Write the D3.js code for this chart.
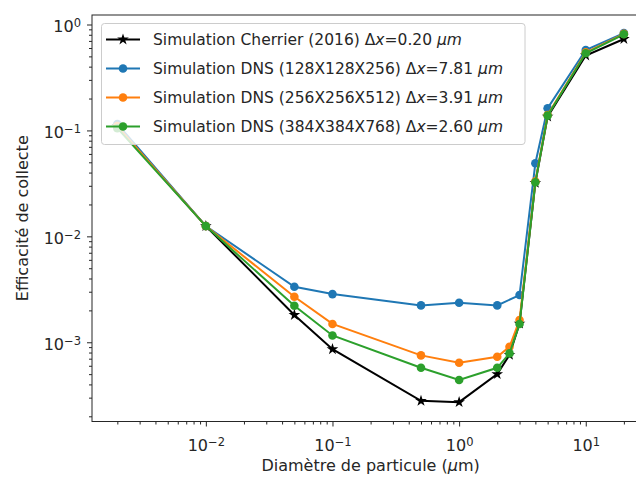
<!DOCTYPE html>
<html>
<head>
<meta charset="utf-8">
<script src="https://cdn.jsdelivr.net/npm/d3@7"></script>
<style>
  body { margin: 0; background: #fff; }
  .chart { width: 636px; height: 477px; }
  text { font-family: "DejaVu Sans", sans-serif; fill: #262626; }
  .axis path, .axis line { stroke: #262626; }
</style>
</head>
<body>
<div class="chart"></div>
<script>
// diameters (um) and collection efficiency for each run
var cherrierX = [0.002, 0.01, 0.05, 0.1, 0.5, 1, 2, 2.5, 3, 4, 5, 10, 20];
var cherrierY = [0.11, 0.0125, 0.00181, 0.00086, 0.00028, 0.000272, 0.0005, 0.00076, 0.0015, 0.032, 0.135, 0.51, 0.73];

var dns128X = [0.002, 0.01, 0.05, 0.1, 0.5, 1, 2, 3, 4, 5, 10, 20];
var dns128Y = [0.115, 0.0125, 0.00334, 0.00285, 0.00223, 0.00236, 0.00223, 0.00279, 0.049, 0.162, 0.574, 0.83];

var dns256X = [0.002, 0.01, 0.05, 0.1, 0.5, 1, 2, 2.5, 3, 4, 5, 10, 20];
var dns256Y = [0.11, 0.0125, 0.00269, 0.00149, 0.000752, 0.00064, 0.00073, 0.000906, 0.00162, 0.033, 0.14, 0.545, 0.815];

var dns384X = [0.002, 0.01, 0.05, 0.1, 0.5, 1, 2, 2.5, 3, 4, 5, 10, 20];
var dns384Y = [0.105, 0.0125, 0.00221, 0.00116, 0.000574, 0.00044, 0.000574, 0.000785, 0.00149, 0.0324, 0.138, 0.535, 0.808];

var seriesNames = ["Simulation Cherrier (2016) \u0394", "Simulation DNS (128X128X256) \u0394", "Simulation DNS (256X256X512) \u0394", "Simulation DNS (384X384X768) \u0394"];
var seriesDx = ["0.20", "7.81", "3.91", "2.60"];

var xMajor = [1e-2, 1e-1, 1, 10];
var yMajor = [1e-3, 1e-2, 1e-1, 1];
var xLabelText = "Diam\u00e8tre de particule (";
var yLabelText = "Efficacit\u00e9 de collecte";

function zip(xs, ys) {
  return xs.map(function(d, i) { return {x: d, y: ys[i]}; });
}

var series = [
  {name: seriesNames[0], dx: seriesDx[0], data: zip(cherrierX, cherrierY), color: "#000000", marker: "star"},
  {name: seriesNames[1], dx: seriesDx[1], data: zip(dns128X, dns128Y), color: "#1f77b4", marker: "circle"},
  {name: seriesNames[2], dx: seriesDx[2], data: zip(dns256X, dns256Y), color: "#ff7f0e", marker: "circle"},
  {name: seriesNames[3], dx: seriesDx[3], data: zip(dns384X, dns384Y), color: "#2ca02c", marker: "circle"}
];

function minorTicks(lo, hi) {
  var out = [];
  for (var e = Math.floor(Math.log10(lo)); e <= Math.ceil(Math.log10(hi)); e++) {
    for (var k = 2; k <= 9; k++) {
      var v = k * Math.pow(10, e);
      if (v >= lo && v <= hi) out.push(v);
    }
  }
  return out;
}

function supLabel(sel, v) {
  var e = Math.round(Math.log10(v));
  sel.text("");
  sel.append("tspan").text("10");
  sel.append("tspan").attr("dy", "-0.45em").style("font-size", "11.5px").text(e < 0 ? "\u2212" + (-e) : e);
}

function drawEfficiency() {
  var eleChart = d3.select(".chart").html(""),
      W = 636, H = 477,
      left = 92, right = 649.2, top = 15, bottom = 421.5;

  var svg = eleChart.append("svg").attr("width", W).attr("height", H);

  var x = d3.scaleLog().domain([Math.pow(10, -2.899), Math.pow(10, 1.501)]).range([left, right]),
      y = d3.scaleLog().domain([Math.pow(10, -3.748), Math.pow(10, 0.0897)]).range([bottom, top]);

  // frame (right side runs past the picture edge, like the reference crop)
  svg.append("rect")
    .attr("x", left).attr("y", top)
    .attr("width", right - left).attr("height", bottom - top)
    .attr("fill", "none").attr("stroke", "#262626").attr("stroke-width", 1);

  // x axis
  var gx = svg.append("g").attr("class", "axis axis-x")
    .attr("transform", "translate(0," + bottom + ")");
  gx.append("g")
    .call(d3.axisBottom(x).tickValues(minorTicks(x.domain()[0], x.domain()[1])).tickSize(3).tickFormat(""))
    .call(function(g) { g.select(".domain").remove(); });
  gx.append("g")
    .call(d3.axisBottom(x).tickValues(xMajor).tickSize(5).tickPadding(7))
    .call(function(g) { g.select(".domain").remove(); })
    .selectAll("text")
      .style("font-size", "16px").attr("dy", "1.1em")
      .each(function(d) { supLabel(d3.select(this), d); });

  // y axis
  var gy = svg.append("g").attr("class", "axis axis-y")
    .attr("transform", "translate(" + left + ",0)");
  gy.append("g")
    .call(d3.axisLeft(y).tickValues(minorTicks(y.domain()[0], y.domain()[1])).tickSize(3).tickFormat(""))
    .call(function(g) { g.select(".domain").remove(); });
  gy.append("g")
    .call(d3.axisLeft(y).tickValues(yMajor).tickSize(5).tickPadding(6))
    .call(function(g) { g.select(".domain").remove(); })
    .selectAll("text")
      .style("font-size", "16px").attr("dy", "0.45em")
      .each(function(d) { supLabel(d3.select(this), d); });

  // axis labels
  var xl = svg.append("text")
    .attr("x", (left + right) / 2).attr("y", 471)
    .attr("text-anchor", "middle").style("font-size", "16px");
  xl.append("tspan").text(xLabelText);
  xl.append("tspan").style("font-style", "italic").text("\u03bc");
  xl.append("tspan").text("m)");

  svg.append("text")
    .attr("transform", "translate(28," + ((top + bottom) / 2) + ") rotate(-90)")
    .attr("text-anchor", "middle").style("font-size", "16px")
    .text(yLabelText);

  // lines + markers
  var line = d3.line().x(function(d) { return x(d.x); }).y(function(d) { return y(d.y); });
  var star = d3.symbol().type(d3.symbolStar).size(42);

  var plot = svg.append("g");
  series.forEach(function(s) {
    var g = plot.append("g");
    g.append("path").datum(s.data)
      .attr("d", line).attr("fill", "none")
      .attr("stroke", s.color).attr("stroke-width", 2);
    if (s.marker === "star") {
      g.selectAll(".pt").data(s.data).enter().append("path")
        .attr("d", star)
        .attr("transform", function(d) { return "translate(" + x(d.x) + "," + y(d.y) + ")"; })
        .attr("fill", s.color);
    } else {
      g.selectAll(".pt").data(s.data).enter().append("circle")
        .attr("cx", function(d) { return x(d.x); })
        .attr("cy", function(d) { return y(d.y); })
        .attr("r", 4.3).attr("fill", s.color);
    }
  });

  // legend
  var lg = svg.append("g").attr("class", "legend");
  lg.append("rect")
    .attr("x", 101.5).attr("y", 23.5).attr("width", 423.5).attr("height", 121)
    .attr("rx", 3).attr("fill", "#fff").attr("fill-opacity", 0.8)
    .attr("stroke", "#cccccc").attr("stroke-width", 1);
  series.forEach(function(s, i) {
    var yy = 39.5 + i * 29;
    lg.append("line").attr("x1", 106).attr("x2", 140).attr("y1", yy).attr("y2", yy)
      .attr("stroke", s.color).attr("stroke-width", 2);
    if (s.marker === "star") {
      lg.append("path").attr("d", star).attr("transform", "translate(123," + yy + ")").attr("fill", s.color);
    } else {
      lg.append("circle").attr("cx", 123).attr("cy", yy).attr("r", 4.3).attr("fill", s.color);
    }
    var t = lg.append("text").attr("x", 153).attr("y", yy + 5.5).style("font-size", "15.5px");
    t.append("tspan").text(s.name);
    t.append("tspan").style("font-style", "italic").text("x");
    t.append("tspan").text("=" + s.dx + " ");
    t.append("tspan").style("font-style", "italic").text("\u03bcm");
  });
}

drawEfficiency();
</script>
</body>
</html>
